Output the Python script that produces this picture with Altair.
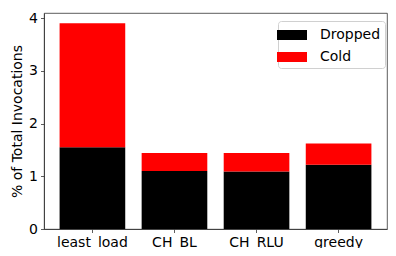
import altair as alt
import pandas as pd

categories = ["least_load", "CH_BL", "CH_RLU", "greedy"]
dropped = [1.55, 1.10, 1.09, 1.22]
cold = [2.35, 0.34, 0.35, 0.40]
series = ["Dropped", "Cold"]
colors = ["#000000", "#ff0000"]
y_ticks = [0, 1, 2, 3, 4]

rows = []
for c, d, k in zip(categories, dropped, cold):
    rows.append({"cat": c, "series": "Dropped", "value": d, "ord": 0})
    rows.append({"cat": c, "series": "Cold", "value": k, "ord": 1})
df = pd.DataFrame(rows)

FONT = "DejaVu Sans"
PLOT_W, PLOT_H = 343, 216

chart = alt.Chart(df).mark_bar().encode(
    x=alt.X("cat:N", sort=categories, title=None,
            scale=alt.Scale(paddingInner=0.2, paddingOuter=0.19),
            axis=alt.Axis(labelAngle=0, labelFontSize=14, labelFont=FONT, labelColor="#000000",
                          tickSize=3.5, tickColor="#333333", domainColor="#333333",
                          labelPadding=3, tickWidth=0.8, domainWidth=0.8)),
    y=alt.Y("value:Q", stack="zero", title="% of Total Invocations",
            scale=alt.Scale(domain=[0, 4.095], nice=False),
            axis=alt.Axis(values=y_ticks, grid=False, labelFontSize=14, labelFont=FONT,
                          labelColor="#000000", tickSize=3.5, tickColor="#333333",
                          domainColor="#333333", labelPadding=3, tickWidth=0.8, domainWidth=0.8,
                          titleFontSize=14, titleFont=FONT, titleFontWeight="normal",
                          titleColor="#000000", titleX=-27, titleY=PLOT_H / 2, titleAngle=270,
                          titleAlign="center", titleBaseline="middle")),
    color=alt.Color("series:N", scale=alt.Scale(domain=series, range=colors),
                    legend=alt.Legend(orient="none", legendX=234, legendY=8, title=None,
                                      symbolType="M-1.5,-0.5H1.5V0.5H-1.5Z", symbolSize=400,
                                      symbolStrokeWidth=0, symbolOpacity=1,
                                      labelFontSize=14, labelFont=FONT, labelColor="#000000",
                                      strokeColor="#d0d0d0", fillColor="white", cornerRadius=3,
                                      padding=4, rowPadding=5, labelOffset=18)),
    order=alt.Order("ord:Q"),
).properties(
    width=PLOT_W, height=PLOT_H,
    autosize=alt.AutoSizeParams(type="none"),
    padding={"left": 36, "top": 5, "right": 1, "bottom": 19},
).configure_view(
    stroke="#333333", strokeWidth=0.8
)

chart.save("out.html", embed_options={"renderer": "svg", "actions": False})
